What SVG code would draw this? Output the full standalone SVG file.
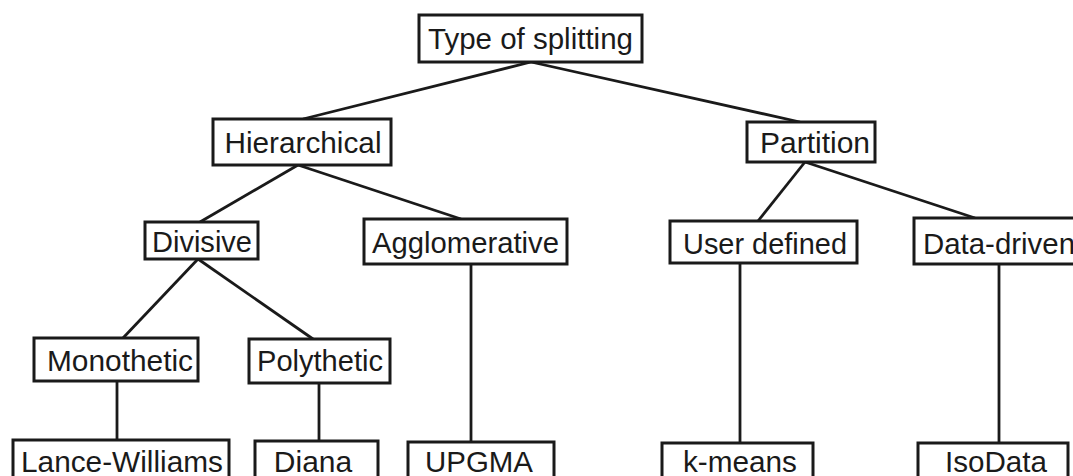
<svg xmlns="http://www.w3.org/2000/svg" width="1073" height="476" viewBox="0 0 1073 476">
<style>
.box{fill:#fff;stroke:#1a1a1a;stroke-width:3}
.lbl{font-family:"Liberation Sans",Arial,sans-serif;font-size:30px;fill:#1a1a1a;text-anchor:middle}
.edge{stroke:#1a1a1a;stroke-width:2.8;fill:none}
</style>
<rect width="1073" height="476" fill="#fff"/>
<g id="connectors">
<line class="edge" x1="531" y1="62" x2="303" y2="119"/>
<line class="edge" x1="531" y1="62" x2="800" y2="122"/>
<line class="edge" x1="298" y1="165" x2="200" y2="222"/>
<line class="edge" x1="298" y1="165" x2="461" y2="219"/>
<line class="edge" x1="805" y1="162" x2="758" y2="221"/>
<line class="edge" x1="805" y1="162" x2="975" y2="218"/>
<line class="edge" x1="198" y1="259" x2="123" y2="338"/>
<line class="edge" x1="198" y1="259" x2="313" y2="339"/>
<line class="edge" x1="471" y1="264" x2="471" y2="442"/>
<line class="edge" x1="740" y1="263" x2="740" y2="443"/>
<line class="edge" x1="999" y1="264" x2="999" y2="443"/>
<line class="edge" x1="117" y1="381" x2="117" y2="440"/>
<line class="edge" x1="319" y1="383" x2="319" y2="441"/>
</g>
<g id="n-type"><rect class="box" x="419" y="15" width="223" height="47"/><text class="lbl" x="530.5" y="49" textLength="205" lengthAdjust="spacingAndGlyphs">Type of splitting</text></g>
<g id="n-hierarchical"><rect class="box" x="213" y="119" width="178" height="46"/><text class="lbl" x="303" y="153" textLength="157" lengthAdjust="spacingAndGlyphs">Hierarchical</text></g>
<g id="n-partition"><rect class="box" x="747" y="122" width="128" height="40"/><text class="lbl" x="815" y="153">Partition</text></g>
<g id="n-divisive"><rect class="box" x="145" y="222" width="113" height="37"/><text class="lbl" x="202" y="252" textLength="100" lengthAdjust="spacingAndGlyphs">Divisive</text></g>
<g id="n-agglomerative"><rect class="box" x="364" y="219" width="203" height="45"/><text class="lbl" x="465.5" y="253" textLength="187" lengthAdjust="spacingAndGlyphs">Agglomerative</text></g>
<g id="n-userdefined"><rect class="box" x="670" y="221" width="187" height="42"/><text class="lbl" x="765" y="254" textLength="164" lengthAdjust="spacingAndGlyphs">User defined</text></g>
<g id="n-datadriven"><rect class="box" x="914" y="218" width="170" height="46"/><text class="lbl" x="923" y="254" style="text-anchor:start" textLength="152" lengthAdjust="spacingAndGlyphs">Data-driven</text></g>
<g id="n-monothetic"><rect class="box" x="34" y="338" width="164" height="43"/><text class="lbl" x="120" y="371" textLength="146" lengthAdjust="spacingAndGlyphs">Monothetic</text></g>
<g id="n-polythetic"><rect class="box" x="249" y="339" width="141" height="44"/><text class="lbl" x="320" y="371" textLength="126" lengthAdjust="spacingAndGlyphs">Polythetic</text></g>
<g id="n-lance"><rect class="box" x="13" y="440" width="216" height="50"/><text class="lbl" x="122" y="472" textLength="202" lengthAdjust="spacingAndGlyphs">Lance-Williams</text></g>
<g id="n-diana"><rect class="box" x="255" y="441" width="123" height="50"/><text class="lbl" x="313" y="472">Diana</text></g>
<g id="n-upgma"><rect class="box" x="408" y="442" width="146" height="50"/><text class="lbl" x="479" y="472" textLength="108" lengthAdjust="spacingAndGlyphs">UPGMA</text></g>
<g id="n-kmeans"><rect class="box" x="662" y="443" width="151" height="50"/><text class="lbl" x="740" y="472" textLength="114" lengthAdjust="spacingAndGlyphs">k-means</text></g>
<g id="n-isodata"><rect class="box" x="918" y="443" width="150" height="50"/><text class="lbl" x="996" y="472" textLength="102" lengthAdjust="spacingAndGlyphs">IsoData</text></g>
</svg>
